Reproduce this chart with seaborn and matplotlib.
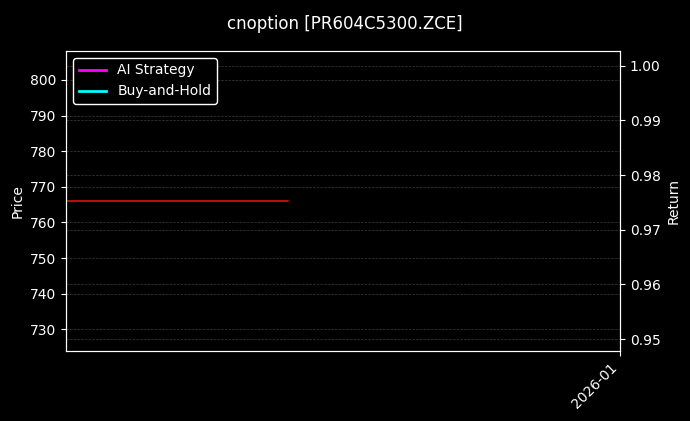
import numpy as np
import pandas as pd
import seaborn as sns
import matplotlib.pyplot as plt
import matplotlib.dates as mdates

plt.style.use('dark_background')

# price series (flat) and strategy returns
price_dates = pd.to_datetime(['2025-12-17', '2025-12-23'])
price_vals = [766.0, 766.0]
ret_dates = pd.to_datetime(['2025-12-17'])
ai_ret = [0.975]
bh_ret = [0.975]

price_df = pd.DataFrame({'date': price_dates, 'price': price_vals})
ret_df = pd.DataFrame({'date': ret_dates, 'ai': ai_ret, 'bh': bh_ret})

fig, ax = plt.subplots(figsize=(6.9, 4.21), dpi=100)
fig.subplots_adjust(left=0.0957, right=0.8986, top=0.879, bottom=0.166)

sns.lineplot(data=price_df, x='date', y='price', ax=ax, color='#ee1111', linewidth=1.1)
ax.set_ylabel('Price')
ax.set_xlabel('')
ax.grid(True, axis='y', linestyle='--', linewidth=0.5, color='#555555', alpha=0.7)

ax2 = ax.twinx()
sns.lineplot(data=ret_df, x='date', y='ai', ax=ax2, color='magenta', linewidth=2, label='AI Strategy')
sns.lineplot(data=ret_df, x='date', y='bh', ax=ax2, color='cyan', linewidth=2, label='Buy-and-Hold')
ax2.set_ylim(0.9478, 1.0027)
ax2.set_ylabel('Return')
ax2.grid(True, axis='y', linestyle='--', linewidth=0.5, color='#555555', alpha=0.7)
ax2.legend(loc='upper left', frameon=True, edgecolor='white', facecolor='black', framealpha=1)

ax.set_xlim(pd.Timestamp('2025-12-17'), pd.Timestamp('2026-01-01'))
ax.xaxis.set_major_locator(mdates.MonthLocator())
ax.xaxis.set_major_formatter(mdates.DateFormatter('%Y-%m'))
plt.setp(ax.get_xticklabels(), rotation=45, ha='right')

fig.suptitle('cnoption [PR604C5300.ZCE]', fontsize=12, y=0.965)

fig.savefig('out.png', dpi=100)
